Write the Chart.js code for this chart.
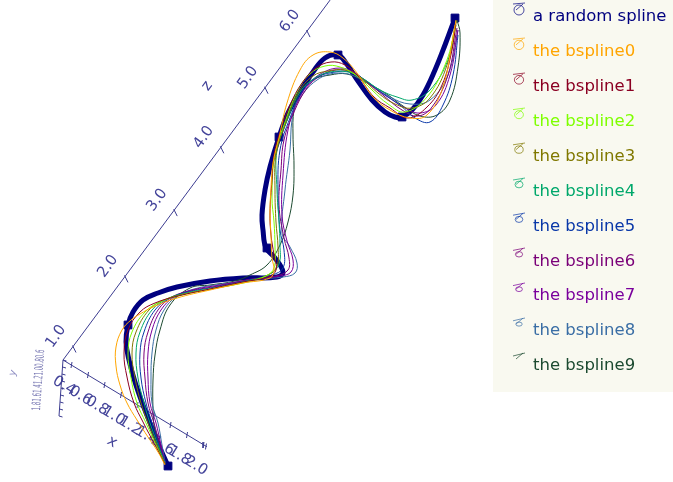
<!DOCTYPE html>
<html>
<head>
<meta charset="utf-8">
<title>bspline</title>
<style>
  html, body { margin: 0; padding: 0; background: #fff; }
  canvas { display: block; }
</style>
<script src="https://cdn.jsdelivr.net/npm/chart.js@4"></script>
</head>
<body>
<canvas id="splineChart" width="673" height="482"></canvas>
<script>
// the picture is a flattened 3d view, so curves are read as [across, down] in the view plane
const randomSpline = [[1.68,4.66],[1.60,4.48],[1.52,4.28],[1.43,4.05],[1.35,3.82],[1.29,3.60],[1.26,3.42],[1.28,3.25],[1.33,3.12],[1.43,3.00],[1.58,2.93],[1.77,2.87],[2.10,2.81],[2.43,2.78],[2.77,2.77],[2.83,2.72],[2.75,2.58],[2.66,2.48],[2.63,2.30],[2.62,2.15],[2.65,1.90],[2.70,1.67],[2.79,1.37],[2.88,1.13],[3.00,0.92],[3.13,0.72],[3.25,0.58],[3.38,0.55],[3.46,0.63],[3.58,0.81],[3.72,1.00],[3.85,1.12],[3.95,1.17],[4.02,1.17],[4.12,1.10],[4.23,0.95],[4.35,0.70],[4.45,0.45],[4.55,0.18]];
const randomControls = [[1.68,4.66],[1.28,3.25],[2.67,2.48],[2.79,1.37],[3.38,0.55],[4.02,1.17],[4.55,0.18]];
const bspline0 = [[1.65,4.65],[1.58,4.52],[1.48,4.37],[1.37,4.20],[1.27,4.03],[1.20,3.85],[1.16,3.66],[1.16,3.47],[1.22,3.30],[1.31,3.20],[1.40,3.14],[1.53,3.07],[1.77,2.98],[2.10,2.90],[2.43,2.83],[2.70,2.78],[2.74,2.70],[2.72,2.58],[2.71,2.35],[2.70,2.13],[2.71,1.88],[2.73,1.63],[2.79,1.38],[2.87,1.03],[3.00,0.70],[3.13,0.55],[3.30,0.52],[3.43,0.58],[3.57,0.73],[3.73,0.97],[3.90,1.10],[4.10,1.18],[4.27,1.15],[4.43,0.87],[4.53,0.37],[4.56,0.20]];
const bspline1 = [[1.65,4.64],[1.55,4.45],[1.43,4.22],[1.34,4.03],[1.27,3.77],[1.24,3.53],[1.28,3.30],[1.40,3.12],[1.55,3.03],[1.78,2.96],[2.10,2.89],[2.43,2.82],[2.68,2.77],[2.76,2.70],[2.74,2.55],[2.71,2.35],[2.70,2.13],[2.72,1.80],[2.74,1.55],[2.80,1.32],[2.90,1.05],[3.02,0.83],[3.16,0.68],[3.31,0.62],[3.45,0.65],[3.58,0.76],[3.74,0.97],[3.90,1.08],[4.08,1.18],[4.27,1.07],[4.42,0.85],[4.52,0.50],[4.56,0.22]];
const bspline2 = [[1.65,4.64],[1.56,4.45],[1.46,4.23],[1.37,4.03],[1.31,3.78],[1.28,3.53],[1.32,3.32],[1.45,3.12],[1.60,3.02],[1.82,2.95],[2.10,2.89],[2.43,2.83],[2.66,2.76],[2.74,2.68],[2.75,2.47],[2.74,2.22],[2.72,1.97],[2.75,1.53],[2.84,1.25],[2.97,0.92],[3.10,0.74],[3.25,0.66],[3.40,0.67],[3.57,0.76],[3.72,0.90],[3.88,1.04],[4.05,1.12],[4.27,0.97],[4.45,0.65],[4.55,0.30],[4.56,0.21]];
const bspline3 = [[1.65,4.64],[1.57,4.45],[1.48,4.23],[1.41,4.03],[1.35,3.78],[1.32,3.53],[1.36,3.32],[1.49,3.10],[1.64,3.00],[1.84,2.94],[2.12,2.89],[2.45,2.82],[2.68,2.75],[2.77,2.66],[2.78,2.47],[2.76,2.22],[2.75,1.90],[2.76,1.55],[2.85,1.25],[2.98,0.93],[3.13,0.76],[3.28,0.71],[3.45,0.70],[3.60,0.77],[3.78,0.93],[3.95,1.04],[4.12,1.08],[4.30,0.98],[4.47,0.65],[4.55,0.25]];
const bspline4 = [[1.65,4.63],[1.58,4.45],[1.50,4.23],[1.44,4.03],[1.38,3.78],[1.36,3.53],[1.40,3.32],[1.52,3.10],[1.67,2.99],[1.86,2.93],[2.14,2.88],[2.47,2.81],[2.70,2.74],[2.79,2.64],[2.80,2.45],[2.79,2.22],[2.77,1.90],[2.77,1.50],[2.88,1.18],[3.00,0.92],[3.15,0.78],[3.30,0.72],[3.48,0.72],[3.62,0.78],[3.80,0.90],[3.97,0.97],[4.12,1.00],[4.30,0.90],[4.48,0.60],[4.56,0.25]];
const bspline5 = [[1.65,4.63],[1.59,4.45],[1.52,4.23],[1.46,4.03],[1.41,3.78],[1.40,3.53],[1.44,3.32],[1.55,3.10],[1.70,2.98],[1.88,2.92],[2.16,2.87],[2.50,2.80],[2.72,2.75],[2.83,2.68],[2.84,2.50],[2.80,2.30],[2.78,1.90],[2.80,1.50],[2.90,1.18],[3.03,0.90],[3.18,0.77],[3.35,0.72],[3.50,0.72],[3.65,0.80],[3.82,0.93],[4.00,1.05],[4.15,1.18],[4.30,1.22],[4.43,1.05],[4.53,0.75],[4.58,0.35]];
const bspline6 = [[1.65,4.63],[1.60,4.45],[1.54,4.23],[1.48,4.03],[1.45,3.78],[1.44,3.53],[1.48,3.32],[1.58,3.10],[1.72,2.97],[1.90,2.91],[2.18,2.86],[2.52,2.79],[2.76,2.76],[2.88,2.70],[2.89,2.58],[2.84,2.38],[2.79,2.05],[2.81,1.70],[2.84,1.40],[2.94,1.12],[3.07,0.88],[3.20,0.76],[3.36,0.70],[3.52,0.72],[3.67,0.82],[3.84,0.96],[4.02,1.10],[4.18,1.16],[4.32,1.07],[4.48,0.75],[4.57,0.28]];
const bspline7 = [[1.65,4.63],[1.61,4.45],[1.56,4.23],[1.50,4.03],[1.48,3.78],[1.48,3.53],[1.52,3.30],[1.61,3.10],[1.74,2.97],[1.92,2.90],[2.20,2.85],[2.55,2.79],[2.80,2.76],[2.91,2.72],[2.93,2.60],[2.87,2.41],[2.82,2.15],[2.83,1.75],[2.88,1.30],[2.97,1.03],[3.08,0.85],[3.22,0.73],[3.40,0.68],[3.55,0.73],[3.70,0.85],[3.88,0.97],[4.05,1.08],[4.20,1.13],[4.36,1.05],[4.50,0.75],[4.58,0.30]];
const bspline8 = [[1.65,4.62],[1.62,4.45],[1.58,4.23],[1.52,4.03],[1.51,3.78],[1.52,3.53],[1.56,3.30],[1.64,3.10],[1.76,2.97],[1.94,2.89],[2.22,2.84],[2.58,2.79],[2.83,2.77],[2.95,2.73],[2.97,2.63],[2.90,2.47],[2.82,2.33],[2.85,1.90],[2.90,1.50],[2.92,1.20],[2.97,1.03],[3.17,0.80],[3.40,0.73],[3.63,0.80],[3.90,0.97],[4.10,1.04],[4.30,1.00],[4.48,0.75],[4.58,0.30]];
const bspline9 = [[1.65,4.62],[1.58,4.40],[1.54,4.25],[1.53,4.10],[1.53,3.80],[1.55,3.55],[1.60,3.30],[1.70,3.05],[1.90,2.88],[2.10,2.85],[2.35,2.81],[2.50,2.75],[2.67,2.65],[2.80,2.45],[2.88,2.22],[2.93,1.95],[2.94,1.65],[2.93,1.35],[2.94,1.10],[3.00,0.92],[3.12,0.80],[3.30,0.75],[3.47,0.74],[3.63,0.81],[3.85,0.93],[4.03,1.06],[4.20,1.16],[4.37,1.15],[4.50,1.00],[4.58,0.67],[4.60,0.33],[4.57,0.20]];

const seriesNames = ['a random spline','the bspline0','the bspline1','the bspline2','the bspline3','the bspline4','the bspline5','the bspline6','the bspline7','the bspline8','the bspline9'];
const seriesColors = ['#00007f','#ffa500','#8b0022','#7fff00','#807800','#00a86b','#0a38a8','#7a0078','#7a009c','#3a6ea5','#1c4a30'];
const bsplines = [bspline0,bspline1,bspline2,bspline3,bspline4,bspline5,bspline6,bspline7,bspline8,bspline9];

const xTicks = [0.4,0.6,0.8,1.0,1.2,1.4,1.6,1.8,2.0];
const yTicks = [0.4,0.6,0.8,1.0,1.2,1.4,1.6,1.8,2.0];
const zTicks = [1.0,2.0,3.0,4.0,5.0,6.0];
const yTickText = '1.81.61.41.21.00.80.6';

// where the three axes sit in the view plane, z shrinks with distance
const axisOrigin = [0.63,3.60];
const xAxis = { base: [0.72,3.65], at: 0.4, end: 2.035, dir: [0.825,0.50], shrink: 0 };
const yAxis = { base: [0.63,3.60], at: 0.4, end: 2.0, dir: [-0.025,0.35], shrink: 0 };
const zAxis = { base: [0.73,3.465], at: 1.0, end: 6.57, dir: [0.535,-0.721], shrink: 0.0286 };

function onAxis(axis, v) {
  const t = (v - axis.at) / (1 + axis.shrink * (v - axis.at));
  return [axis.base[0] + t * axis.dir[0], axis.base[1] + t * axis.dir[1]];
}
function toPoints(list) {
  return list.map(p => ({ x: p[0], y: p[1] }));
}
function axisLine(axis) {
  return { data: toPoints([axisOrigin, onAxis(axis, axis.end)]), borderColor: '#3c3c90', borderWidth: 1, tension: 0, order: 20 };
}
function tickMarks(axis, ticks, from, to) {
  const pts = [];
  ticks.forEach(t => {
    const p = onAxis(axis, t);
    pts.push({ x: p[0] + from[0], y: p[1] + from[1] }, { x: p[0] + to[0], y: p[1] + to[1] }, { x: NaN, y: NaN });
  });
  return { data: pts, borderColor: '#3c3c90', borderWidth: 1, tension: 0, order: 20, spanGaps: false };
}

const datasets = [
  axisLine(xAxis), axisLine(yAxis), axisLine(zAxis),
  tickMarks(xAxis, xTicks.concat([2.03]), [0.0,-0.03], [-0.01,0.03]),
  tickMarks(yAxis, yTicks, [0.0,0.0], [0.035,0.01]),
  tickMarks(zAxis, zTicks, [-0.005,-0.01], [0.03,0.06]),
  { label: seriesNames[0], data: toPoints(randomSpline), borderColor: seriesColors[0], borderWidth: 5, order: 15 },
  { data: toPoints(randomControls), showLine: false, pointStyle: 'rect', pointRadius: 5.5, backgroundColor: seriesColors[0], borderColor: seriesColors[0], order: 15 }
];
bsplines.forEach((b, i) => {
  datasets.push({ label: seriesNames[i + 1], data: toPoints(b), borderColor: seriesColors[i + 1], borderWidth: 1, order: i });
});

// tick labels, axis names and the legend panel
const textPlugin = {
  id: 'textPlugin',
  beforeDatasetsDraw(chart) {
    const { ctx, scales } = chart;
    const px = p => [scales.x.getPixelForValue(p[0]), scales.y.getPixelForValue(p[1])];
    function put(txt, p, dx, dy, deg, font, color) {
      const q = px(p);
      ctx.save();
      ctx.translate(q[0] + dx, q[1] + dy);
      ctx.rotate(deg * Math.PI / 180);
      ctx.font = font;
      ctx.fillStyle = color;
      ctx.textAlign = 'center';
      ctx.textBaseline = 'middle';
      ctx.fillText(txt, 0, 0);
      ctx.restore();
    }
    const labelFont = '15px "DejaVu Sans"';
    xTicks.forEach(t => put(t.toFixed(1), onAxis(xAxis, t), -8, 21, 32, labelFont, '#44449a'));
    zTicks.forEach(t => put(t.toFixed(1), onAxis(zAxis, t), -17, -10, -54, labelFont, '#44449a'));
    put('z', onAxis(zAxis, 3.0), 33, -124, -54, labelFont, '#44449a');
    put('x', onAxis(xAxis, 1.2), -26, 37, 32, labelFont, '#44449a');
    put('y', axisOrigin, -50, 13, -70, '10px "DejaVu Sans"', '#8a8ac0');

    // squeezed y labels
    const o = px(axisOrigin);
    ctx.save();
    ctx.translate(o[0] - 24, o[1] + 20);
    ctx.rotate(-86 * Math.PI / 180);
    ctx.scale(0.55, 1.2);
    ctx.font = '10px "DejaVu Sans"';
    ctx.fillStyle = '#7a7ab4';
    ctx.textAlign = 'center';
    ctx.textBaseline = 'middle';
    ctx.fillText(yTickText, 0, 0);
    ctx.restore();
  },
  afterDatasetsDraw(chart) {
    const { ctx } = chart;
    ctx.save();
    ctx.fillStyle = '#f9f9f0';
    ctx.fillRect(493, 0, 180, 392);
    ctx.font = '16.5px "DejaVu Sans"';
    ctx.textBaseline = 'middle';
    seriesNames.forEach((name, i) => {
      const y = 17 + i * 34.9;
      ctx.fillStyle = seriesColors[i];
      ctx.fillText(name, 533, y);
      // little scribble marker
      const ix = 519, iy = y - 8;
      ctx.strokeStyle = seriesColors[i];
      ctx.globalAlpha = 0.7;
      ctx.lineWidth = 1;
      ctx.beginPath();
      ctx.moveTo(ix - 6, iy - 5 + i * 0.3);
      ctx.lineTo(ix + 6, iy - 6 + i * 0.1);
      ctx.moveTo(ix + 4, iy - 5);
      ctx.lineTo(ix - 3, iy + 1);
      ctx.stroke();
      if (i < 10) {
        ctx.beginPath();
        ctx.ellipse(ix, iy + 1, 5 - i * 0.2, 5 - i * 0.33, 0, 0, Math.PI * 2);
        ctx.stroke();
      }
      ctx.globalAlpha = 1;
    });
    ctx.restore();
  }
};

new Chart(document.getElementById('splineChart'), {
  type: 'scatter',
  data: { datasets: datasets },
  options: {
    responsive: false,
    animation: false,
    layout: { padding: 0, autoPadding: false },
    datasets: { scatter: { showLine: true, tension: 0.4, pointRadius: 0, fill: false } },
    plugins: { legend: { display: false }, tooltip: { enabled: false } },
    scales: {
      x: { type: 'linear', min: 0, max: 6.73, display: false },
      y: { type: 'linear', min: 0, max: 4.82, reverse: true, display: false }
    }
  },
  plugins: [textPlugin]
});
</script>
</body>
</html>
